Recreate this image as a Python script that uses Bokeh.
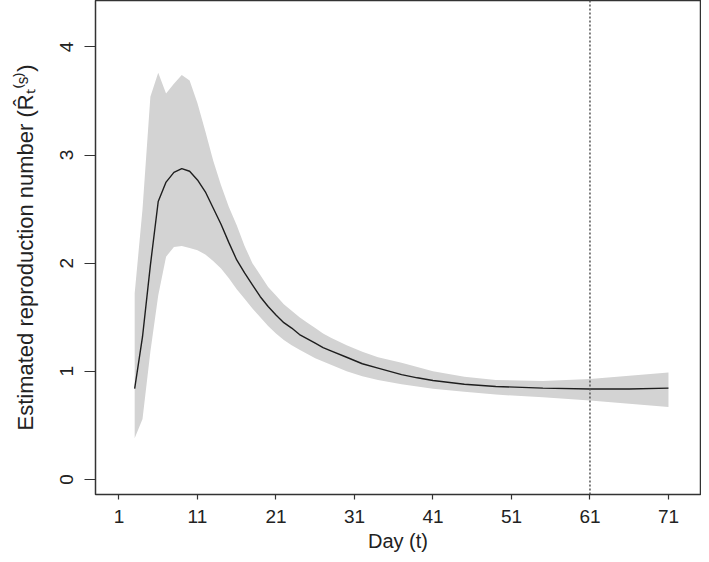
from bokeh.plotting import figure
from bokeh.models import ColumnDataSource, FixedTicker, Span, Range1d
from bokeh.embed import file_html
from bokeh.resources import INLINE

# Data
days = [3, 4, 5, 6, 7, 8, 9, 10, 11, 12, 13, 14, 15, 16, 17, 18, 19, 20, 21, 22,
        23, 24, 25, 26, 27, 28, 30, 32, 34, 37, 39, 41, 45, 49, 55, 61, 66, 71]
rt_mean = [0.84, 1.32, 1.98, 2.57, 2.75, 2.84, 2.875, 2.85, 2.77, 2.66, 2.51, 2.36,
           2.19, 2.03, 1.91, 1.80, 1.69, 1.60, 1.52, 1.45, 1.40, 1.34, 1.30, 1.26,
           1.22, 1.19, 1.13, 1.07, 1.03, 0.97, 0.94, 0.915, 0.88, 0.86, 0.845,
           0.836, 0.836, 0.845]
rt_upper = [1.72, 2.50, 3.54, 3.76, 3.57, 3.66, 3.74, 3.69, 3.48, 3.22, 2.95, 2.72,
            2.52, 2.35, 2.16, 2.00, 1.89, 1.78, 1.70, 1.62, 1.56, 1.50, 1.45, 1.40,
            1.35, 1.31, 1.24, 1.18, 1.13, 1.08, 1.04, 1.00, 0.95, 0.92, 0.91,
            0.93, 0.96, 0.99]
rt_lower = [0.38, 0.56, 1.18, 1.70, 2.06, 2.15, 2.16, 2.14, 2.12, 2.08, 2.02, 1.95,
            1.86, 1.76, 1.67, 1.58, 1.50, 1.42, 1.35, 1.29, 1.24, 1.20, 1.16, 1.12,
            1.09, 1.06, 1.00, 0.955, 0.92, 0.88, 0.86, 0.84, 0.81, 0.785, 0.76,
            0.73, 0.70, 0.67]
x_ticks = [1, 11, 21, 31, 41, 51, 61, 71]
y_ticks = [0, 1, 2, 3, 4]
cutoff_day = 61

src = ColumnDataSource(dict(day=days, mean=rt_mean, upper=rt_upper, lower=rt_lower))

FONT = "Liberation Sans"
GREY = "#333333"

p = figure(width=701, height=554, output_backend="svg", toolbar_location=None,
           x_range=Range1d(-1.99, 75.08), y_range=Range1d(-0.139, 4.429),
           min_border_left=95, min_border_right=1, min_border_top=0, min_border_bottom=60)
p.background_fill_color = "white"
p.border_fill_color = "white"
p.grid.visible = False
p.outline_line_color = GREY
p.outline_line_width = 1.5

p.varea(x="day", y1="lower", y2="upper", source=src, fill_color="#d3d3d3")
p.line(x="day", y="mean", source=src, line_color="#1e1e1e", line_width=1.4)
p.add_layout(Span(location=cutoff_day, dimension="height", line_color="#555555",
                  line_width=1.5, line_dash="2 2"))

p.xaxis.ticker = FixedTicker(ticks=x_ticks)
p.yaxis.ticker = FixedTicker(ticks=y_ticks)

for ax in (p.xaxis, p.yaxis):
    ax.axis_line_alpha = 0
    ax.minor_tick_line_color = None
    ax.major_tick_in = 0
    ax.major_tick_line_color = GREY
    ax.major_tick_line_width = 1.2
    ax.major_label_text_font = FONT
    ax.major_label_text_font_size = "19px"
    ax.major_label_text_color = "#222222"
    ax.axis_label_text_font = FONT
    ax.axis_label_text_font_style = "normal"
    ax.axis_label_text_color = "#222222"

p.xaxis.major_tick_out = 5
p.xaxis.major_label_standoff = 10
p.xaxis.axis_label = "Day (t)"
p.xaxis.axis_label_text_font_size = "20px"
p.xaxis.axis_label_standoff = 4

p.yaxis.major_tick_out = 11
p.yaxis.major_label_orientation = "vertical"
p.yaxis.major_label_standoff = 11
p.yaxis.axis_label = "Estimated reproduction number (R\u0302\u209c\u207d\u02e2\u207e)"
p.yaxis.axis_label_text_font_size = "22px"
p.yaxis.axis_label_standoff = 20

open("out.html", "w").write(file_html(p, INLINE))
